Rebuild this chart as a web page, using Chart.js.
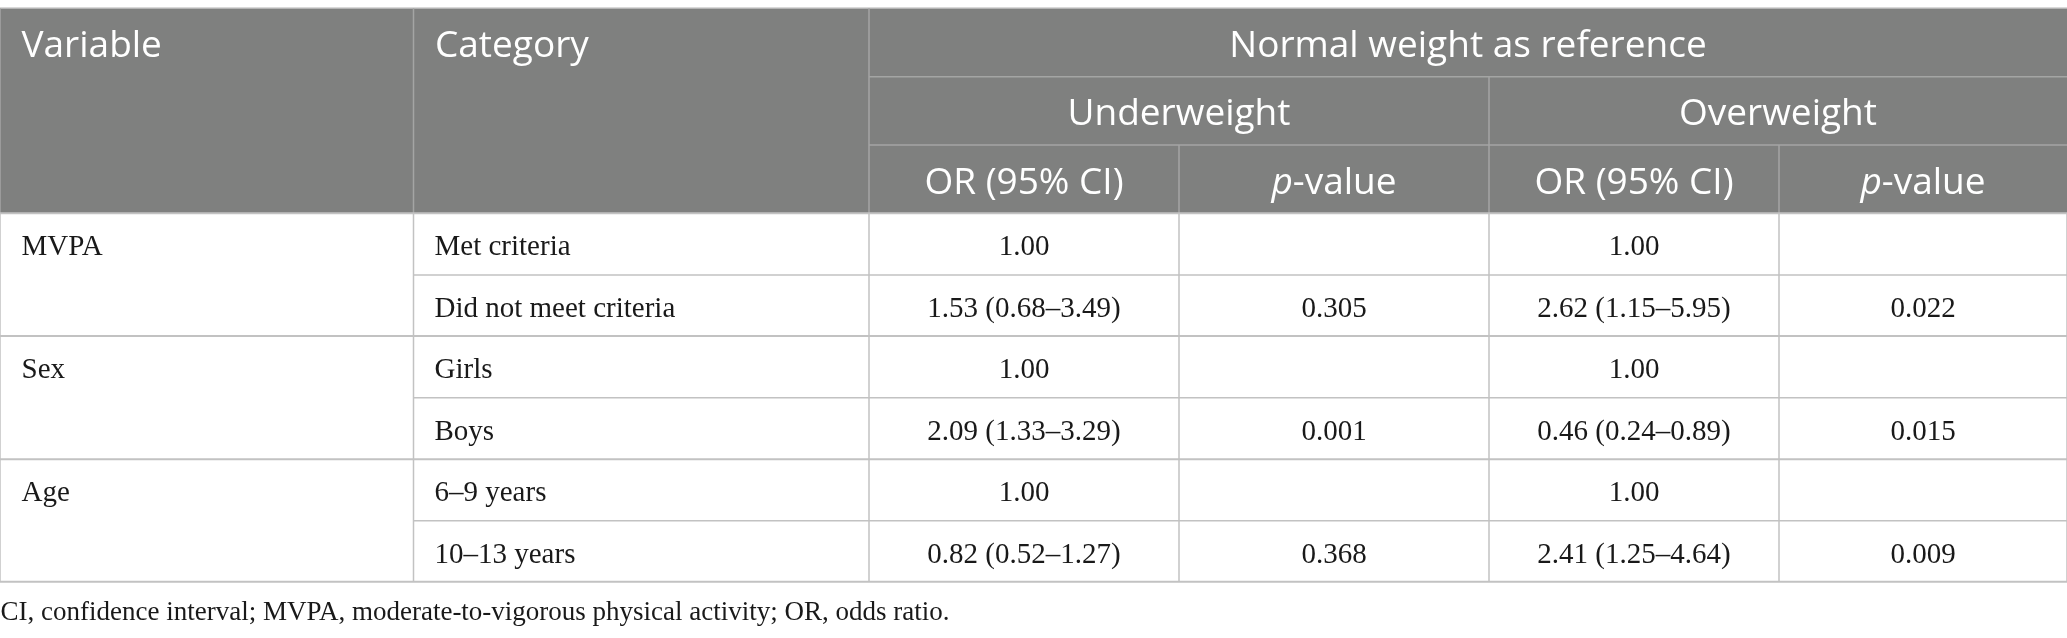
<!DOCTYPE html>
<html lang="en">
<head>
    <meta charset="UTF-8">
    <meta name="viewport" content="width=device-width, initial-scale=1.0">
    <title>Weight status odds ratios</title>
    <style>
        html, body {
            margin: 0;
            padding: 0;
            background: #ffffff;
        }

        #tableChart {
            width: 2067px;
            height: 638px;
        }
    </style>
    <script src="https://cdn.jsdelivr.net/npm/chart.js"></script>
</head>
<body>
    <div id="tableChart">
        <canvas id="chart"></canvas>
    </div>

    <script>
        // Table content
        const spanHead = 'Normal weight as reference';
        const groupHeads = ['Underweight', 'Overweight'];
        const colHeads = ['Variable', 'Category'];
        const variables = ['MVPA', 'Sex', 'Age'];
        const categories = ['Met criteria', 'Did not meet criteria', 'Girls', 'Boys', '6–9 years', '10–13 years'];
        const underOR = ['1.00', '1.53 (0.68–3.49)', '1.00', '2.09 (1.33–3.29)', '1.00', '0.82 (0.52–1.27)'];
        const underP = ['', '0.305', '', '0.001', '', '0.368'];
        const overOR = ['1.00', '2.62 (1.15–5.95)', '1.00', '0.46 (0.24–0.89)', '1.00', '2.41 (1.25–4.64)'];
        const overP = ['', '0.022', '', '0.015', '', '0.009'];
        const footnote = 'CI, confidence interval; MVPA, moderate-to-vigorous physical activity; OR, odds ratio.';

        // Layout in frame units (scales run 0..2067 by 0..638)
        const colEdges = [0, 413.5, 869, 1179, 1489, 1779, 2067];
        const headEdges = [8.3, 76.7, 145, 213.3];
        const rowEdges = [213.3, 275, 336, 397.7, 459.3, 520.7, 581.7];
        const rowsPerVar = 2;

        const HEAD_BG = '#7f807f';
        const HEAD_LINE = '#a4a5a4';
        const BODY_LINE = '#c2c2c2';
        const HEAD_FONT = '37px "Open Sans"';
        const HEAD_FONT_IT = 'italic 37px "Open Sans"';
        const BODY_FONT = '29px "Liberation Serif"';
        const NOTE_FONT = '27px "Liberation Serif"';
        const TEXT = '#191919';

        const tablePlugin = {
            id: 'tablePlugin',
            afterDraw(chart) {
                const ctx = chart.ctx;
                const sx = chart.scales.x;
                const sy = chart.scales.y;
                const X = v => sx.getPixelForValue(v);
                const Y = v => sy.getPixelForValue(v);

                function hline(y, x0, x1, color, w) {
                    ctx.strokeStyle = color;
                    ctx.lineWidth = w;
                    ctx.beginPath();
                    ctx.moveTo(X(x0), Y(y));
                    ctx.lineTo(X(x1), Y(y));
                    ctx.stroke();
                }

                function vline(x, y0, y1, color, w) {
                    ctx.strokeStyle = color;
                    ctx.lineWidth = w;
                    ctx.beginPath();
                    ctx.moveTo(X(x), Y(y0));
                    ctx.lineTo(X(x), Y(y1));
                    ctx.stroke();
                }

                function text(str, x, y, align, font, color) {
                    ctx.font = font;
                    ctx.fillStyle = color;
                    ctx.textAlign = align;
                    ctx.textBaseline = 'alphabetic';
                    ctx.fillText(str, X(x), Y(y));
                }

                // p-value header: italic p followed by upright "-value"
                function pValue(cx, y) {
                    ctx.font = HEAD_FONT_IT;
                    const wp = ctx.measureText('p').width;
                    ctx.font = HEAD_FONT;
                    const wr = ctx.measureText('-value').width;
                    const left = X(cx) - (wp + wr) / 2;
                    ctx.fillStyle = '#ffffff';
                    ctx.textAlign = 'left';
                    ctx.font = HEAD_FONT_IT;
                    ctx.fillText('p', left, Y(y));
                    ctx.font = HEAD_FONT;
                    ctx.fillText('-value', left + wp, Y(y));
                }

                const full0 = colEdges[0];
                const full1 = colEdges[colEdges.length - 1];
                const mid = i => (colEdges[i] + colEdges[i + 1]) / 2;

                ctx.save();

                // header block
                ctx.fillStyle = HEAD_BG;
                ctx.fillRect(X(full0), Y(headEdges[0]), X(full1) - X(full0), Y(headEdges[3]) - Y(headEdges[0]));

                hline(headEdges[0], full0, full1, '#b4b4b4', 1.5);
                hline(headEdges[1], colEdges[2], full1, HEAD_LINE, 1.5);
                hline(headEdges[2], colEdges[2], full1, HEAD_LINE, 1.5);
                vline(colEdges[0], headEdges[0], headEdges[3], HEAD_LINE, 1.5);
                vline(colEdges[1], headEdges[0], headEdges[3], HEAD_LINE, 1.5);
                vline(colEdges[2], headEdges[0], headEdges[3], HEAD_LINE, 1.5);
                vline(colEdges[4], headEdges[1], headEdges[3], HEAD_LINE, 1.5);
                vline(colEdges[3], headEdges[2], headEdges[3], HEAD_LINE, 1.5);
                vline(colEdges[5], headEdges[2], headEdges[3], HEAD_LINE, 1.5);

                const hb = 48.6;
                text(colHeads[0], colEdges[0] + 21.5, headEdges[0] + hb, 'left', HEAD_FONT, '#ffffff');
                text(colHeads[1], colEdges[1] + 21.5, headEdges[0] + hb, 'left', HEAD_FONT, '#ffffff');
                text(spanHead, (colEdges[2] + full1) / 2, headEdges[0] + hb, 'center', HEAD_FONT, '#ffffff');
                text(groupHeads[0], (colEdges[2] + colEdges[4]) / 2, headEdges[1] + hb, 'center', HEAD_FONT, '#ffffff');
                text(groupHeads[1], (colEdges[4] + colEdges[6]) / 2, headEdges[1] + hb, 'center', HEAD_FONT, '#ffffff');
                text('OR (95% CI)', mid(2), headEdges[2] + hb, 'center', HEAD_FONT, '#ffffff');
                pValue(mid(3), headEdges[2] + hb);
                text('OR (95% CI)', mid(4), headEdges[2] + hb, 'center', HEAD_FONT, '#ffffff');
                pValue(mid(5), headEdges[2] + hb);

                // body grid
                for (let i = 0; i < rowEdges.length; i++) {
                    const groupLine = i % rowsPerVar === 0;
                    hline(rowEdges[i], groupLine ? full0 : colEdges[1], full1, BODY_LINE, groupLine ? 2 : 1.5);
                }
                colEdges.forEach(c => vline(c, rowEdges[0], rowEdges[rowEdges.length - 1], BODY_LINE, 1.5));

                // body text
                const bb = 41.8;
                variables.forEach((v, g) => {
                    text(v, colEdges[0] + 21.5, rowEdges[g * rowsPerVar] + bb, 'left', BODY_FONT, TEXT);
                });
                categories.forEach((c, r) => {
                    const top = rowEdges[r];
                    text(c, colEdges[1] + 21, top + bb, 'left', BODY_FONT, TEXT);
                    text(underOR[r], mid(2), top + bb, 'center', BODY_FONT, TEXT);
                    text(underP[r], mid(3), top + bb, 'center', BODY_FONT, TEXT);
                    text(overOR[r], mid(4), top + bb, 'center', BODY_FONT, TEXT);
                    text(overP[r], mid(5), top + bb, 'center', BODY_FONT, TEXT);
                });

                text(footnote, 0.5, 620, 'left', NOTE_FONT, TEXT);

                ctx.restore();
            }
        };

        new Chart(document.getElementById('chart').getContext('2d'), {
            type: 'scatter',
            data: {
                datasets: [{
                    label: 'cells',
                    data: [],
                    pointRadius: 0
                }]
            },
            options: {
                responsive: true,
                maintainAspectRatio: false,
                animation: false,
                layout: { padding: 0 },
                plugins: {
                    legend: { display: false },
                    tooltip: { enabled: false }
                },
                scales: {
                    x: { type: 'linear', min: 0, max: 2067, display: false },
                    y: { type: 'linear', min: 0, max: 638, reverse: true, display: false }
                }
            },
            plugins: [tablePlugin]
        });
    </script>
</body>
</html>
